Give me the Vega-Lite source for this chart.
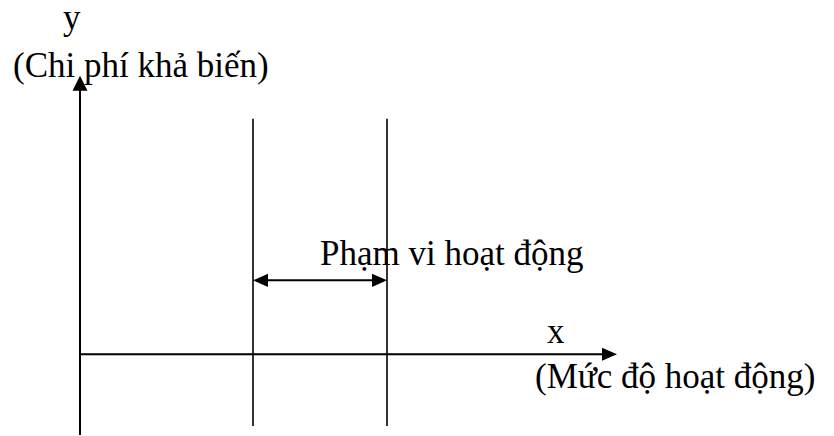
{
  "$schema": "https://vega.github.io/schema/vega-lite/v6.json",
  "width": 834,
  "height": 436,
  "autosize": {"type": "fit", "contains": "padding"},
  "padding": 0,
  "background": "white",
  "config": {"view": {"stroke": null}},
  "datasets": {
    "lines": [
      {"part": "y-axis", "x": 0, "y": -81, "x2": 0, "y2": 266, "w": 2},
      {"part": "x-axis", "x": 0, "y": 0, "x2": 525, "y2": 0, "w": 2},
      {"part": "lower bound", "x": 173, "y": -72, "x2": 173, "y2": 236, "w": 1.6},
      {"part": "upper bound", "x": 307, "y": -72, "x2": 307, "y2": 236, "w": 1.6},
      {"part": "range", "x": 176, "y": 74, "x2": 304, "y2": 74, "w": 2}
    ],
    "heads": [
      {"dir": "up", "x": 0, "y": 271.5},
      {"dir": "right", "x": 529.5, "y": 0},
      {"dir": "left", "x": 180.5, "y": 74},
      {"dir": "right", "x": 299.5, "y": 74}
    ],
    "labels": [
      {"label": "y", "x": -17, "y": 326},
      {"label": "(Chi phí khả biến)", "x": -67, "y": 278},
      {"label": "Phạm vi hoạt động", "x": 240, "y": 89},
      {"label": "x", "x": 467, "y": 11},
      {"label": "(Mức độ hoạt động)", "x": 455, "y": -34}
    ]
  },
  "layer": [
    {
      "data": {"name": "lines"},
      "mark": {"type": "rule", "color": "black"},
      "encoding": {
        "x": {"field": "x", "type": "quantitative", "scale": {"domain": [-80, 754], "nice": false, "zero": false}, "axis": null},
        "y": {"field": "y", "type": "quantitative", "scale": {"domain": [-82, 354], "nice": false, "zero": false}, "axis": null},
        "x2": {"field": "x2"},
        "y2": {"field": "y2"},
        "strokeWidth": {"field": "w", "type": "quantitative", "scale": null}
      }
    },
    {
      "data": {"name": "heads"},
      "transform": [{"filter": "datum.dir === 'up'"}],
      "mark": {"type": "point", "shape": "M0,-1L1,1L-1,1Z", "filled": true, "color": "black", "opacity": 1, "size": 225, "strokeWidth": 0},
      "encoding": {
        "x": {"field": "x", "type": "quantitative"},
        "y": {"field": "y", "type": "quantitative"}
      }
    },
    {
      "data": {"name": "heads"},
      "transform": [{"filter": "datum.dir === 'right'"}],
      "mark": {"type": "point", "shape": "M1,0L-1,-0.87L-1,0.87Z", "filled": true, "color": "black", "opacity": 1, "size": 225, "strokeWidth": 0},
      "encoding": {
        "x": {"field": "x", "type": "quantitative"},
        "y": {"field": "y", "type": "quantitative"}
      }
    },
    {
      "data": {"name": "heads"},
      "transform": [{"filter": "datum.dir === 'left'"}],
      "mark": {"type": "point", "shape": "M-1,0L1,-0.87L1,0.87Z", "filled": true, "color": "black", "opacity": 1, "size": 225, "strokeWidth": 0},
      "encoding": {
        "x": {"field": "x", "type": "quantitative"},
        "y": {"field": "y", "type": "quantitative"}
      }
    },
    {
      "data": {"name": "labels"},
      "mark": {"type": "text", "align": "left", "baseline": "alphabetic", "font": "Liberation Serif", "fontSize": 35, "color": "black"},
      "encoding": {
        "x": {"field": "x", "type": "quantitative"},
        "y": {"field": "y", "type": "quantitative"},
        "text": {"field": "label"}
      }
    }
  ]
}
